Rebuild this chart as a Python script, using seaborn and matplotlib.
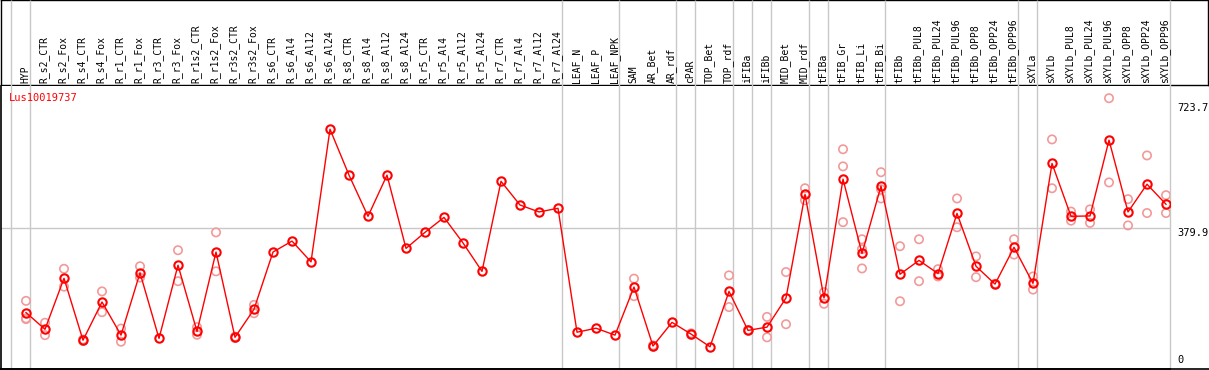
import numpy as np
import pandas as pd
import matplotlib
matplotlib.use('Agg')
import matplotlib.pyplot as plt
import matplotlib.transforms as mtransforms
import seaborn as sns

gene_id = 'Lus10019737'

samples = ['HYP', 'R_s2_CTR', 'R_s2_Fox', 'R_s4_CTR', 'R_s4_Fox', 'R_r1_CTR', 'R_r1_Fox',
           'R_r3_CTR', 'R_r3_Fox', 'R_r1s2_CTR', 'R_r1s2_Fox', 'R_r3s2_CTR', 'R_r3s2_Fox',
           'R_s6_CTR', 'R_s6_Al4', 'R_s6_Al12', 'R_s6_Al24', 'R_s8_CTR', 'R_s8_Al4',
           'R_s8_Al12', 'R_s8_Al24', 'R_r5_CTR', 'R_r5_Al4', 'R_r5_Al12', 'R_r5_Al24',
           'R_r7_CTR', 'R_r7_Al4', 'R_r7_Al12', 'R_r7_Al24', 'LEAF_N', 'LEAF_P', 'LEAF_NPK',
           'SAM', 'AR_Bet', 'AR_rdf', 'cPAR', 'TOP_Bet', 'TOP_rdf', 'iFIBa', 'iFIBb',
           'MID_Bet', 'MID_rdf', 'tFIBa', 'tFIB_Gr', 'tFIB_Li', 'tFIB_Bi', 'tFIBb',
           'tFIBb_PUL8', 'tFIBb_PUL24', 'tFIBb_PUL96', 'tFIBb_OPP8', 'tFIBb_OPP24',
           'tFIBb_OPP96', 'sXYLa', 'sXYLb', 'sXYLb_PUL8', 'sXYLb_PUL24', 'sXYLb_PUL96',
           'sXYLb_OPP8', 'sXYLb_OPP24', 'sXYLb_OPP96']

mean_expr = [148, 102, 242, 72, 177, 86, 257, 77, 278, 96, 314, 80, 157,
             314, 344, 287, 651, 525, 412, 525, 324, 368, 409, 339, 261,
             508, 443, 424, 434, 94, 105, 86,
             218, 56, 121, 89, 54, 206, 99, 108, 188, 472, 188,
             514, 310, 495, 253, 291, 255, 420, 275, 226, 327,
             228, 557, 412, 413, 621, 424, 500, 445]

nan = np.nan
rep_1 = [180, 120, 268, 74, 206, 104, 275, nan, 319, 108, 368, 78, 169,
         nan, nan, nan, nan, nan, nan, nan, nan, nan, nan, nan, nan,
         nan, nan, nan, nan, nan, nan, nan,
         241, 58, nan, 87, nan, 250, 98, 136, 259, 489, 204,
         596, 349, 533, 330, 349, 267, 461, 302, 227, 349,
         247, 623, 425, 431, 736, 459, 579, 470]
rep_2 = [132, 86, 219, 70, 149, 68, 244, nan, 234, 87, 261, 82, 146,
         nan, nan, nan, nan, nan, nan, nan, nan, nan, nan, nan, nan,
         nan, nan, nan, nan, nan, nan, nan,
         193, 54, nan, 91, nan, 163, 100, 80, 116, 456, 172,
         549, 322, 486, 179, 234, 247, 382, 245, 225, 307,
         211, 489, 400, 394, 505, 387, 421, 421]
rep_3 = [130, nan, nan, nan, nan, nan, nan, nan, nan, nan, nan, nan, nan,
         nan, nan, nan, nan, nan, nan, nan, nan, nan, nan, nan, nan,
         nan, nan, nan, nan, nan, nan, nan,
         nan, nan, nan, nan, nan, nan, nan, nan, nan, nan, nan,
         396, 269, 461, nan, nan, nan, nan, nan, nan, nan,
         nan, nan, nan, nan, nan, nan, nan, nan]

# last sample index of each tissue group (-1 = leading boundary)
group_ends = [-1, 0, 28, 31, 34, 35, 37, 38, 39, 41, 42, 45, 52, 53, 60]
axis_marks = [723.7, 379.9]

pos = np.arange(len(samples))
means_df = pd.DataFrame({'pos': pos, 'expr': mean_expr})
reps_df = pd.DataFrame({'pos': np.tile(pos, 3),
                        'expr': rep_1 + rep_2 + rep_3}).dropna()

W, H = 1209, 370
fig = plt.figure(figsize=(W / 100, H / 100), dpi=100)
mono = 'DejaVu Sans Mono'

# header strip with sample names
head = fig.add_axes([0.5 / W, (H - 85) / H, 1207 / W, 85 / H])
head.set_xticks([])
head.set_yticks([])
for sp in head.spines.values():
    sp.set_color('black')
    sp.set_linewidth(1)

ax = fig.add_axes([1 / W, 1 / H, 1169 / W, 283 / H])
ax.set_xlim(-1.316, 60.21)
ax.set_ylim(-6.9, 769.5)
ax.set_xticks([])
ax.set_yticks([])
ax.spines['top'].set_visible(False)
ax.spines['right'].set_visible(False)
for s in ['left', 'bottom']:
    ax.spines[s].set_color('black')
    ax.spines[s].set_linewidth(1.2)

ax.axhline(axis_marks[1], color='#c8c8c8', lw=1, zorder=0)

trans = mtransforms.blended_transform_factory(ax.transData, fig.transFigure)
bx = np.array(group_ends) + 0.21
ax.vlines(bx, 1 / H, 1.0, transform=trans, colors='#c8c8c8', lw=1,
          clip_on=False, zorder=0)

for i, name in enumerate(samples):
    ax.text(i - 0.05, (H - 83) / H, name, rotation=90, ha='center', va='bottom',
            transform=trans, fontsize=7, family=mono, color='black')

sns.scatterplot(data=reps_df, x='pos', y='expr', ax=ax, marker='o', s=36,
                facecolors='none', edgecolor='#f29a9a', linewidth=1.2,
                zorder=2, legend=False)
sns.lineplot(data=means_df, x='pos', y='expr', ax=ax, color='red', lw=1,
             marker='o', markersize=6, markerfacecolor='none',
             markeredgecolor='red', markeredgewidth=1.5, sort=False,
             errorbar=None, zorder=3)
ax.set_xlabel('')
ax.set_ylabel('')

ax.text(0.007, 0.975, gene_id, transform=ax.transAxes, ha='left', va='top',
        fontsize=7.5, family=mono, color='red')

ytrans = mtransforms.blended_transform_factory(ax.transAxes, ax.transData)
for v in axis_marks:
    ax.text(1.0065, v, f'{v:.1f}', transform=ytrans, ha='left', va='top',
            fontsize=7.5, family=mono, color='black', clip_on=False)
ax.text(1.0065, 4, '0', transform=ytrans, ha='left', va='bottom',
        fontsize=7.5, family=mono, color='black', clip_on=False)

fig.add_artist(plt.Line2D([1 / W, 1.0], [1 / H, 1 / H], color='black', lw=1.2,
                          transform=fig.transFigure))

fig.savefig('out.png', dpi=100)
